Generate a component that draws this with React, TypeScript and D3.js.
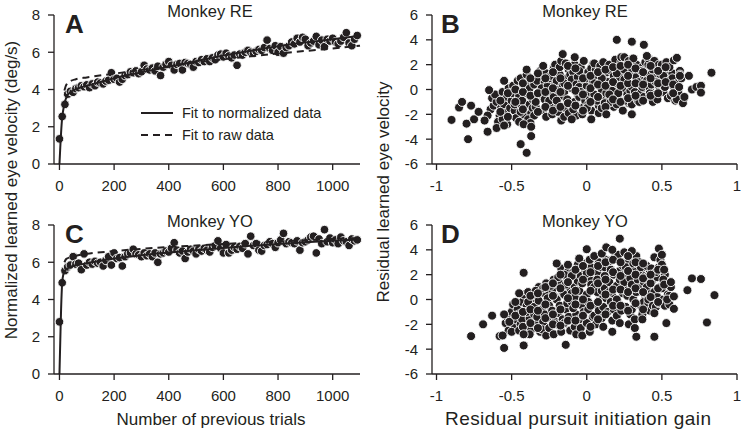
import React from 'react';
import * as d3 from 'd3';

// ---------- Panel A / C : learned eye velocity vs trials ----------
const trials = [0,10,20,30,40,50,60,70,80,90,100,110,120,130,140,150,160,170,180,190,200,210,220,230,240,250,260,270,280,290,300,310,320,330,340,350,360,370,380,390,400,410,420,430,440,450,460,470,480,490,500,510,520,530,540,550,560,570,580,590,600,610,620,630,640,650,660,670,680,690,700,710,720,730,740,750,760,770,780,790,800,810,820,830,840,850,860,870,880,890,900,910,920,930,940,950,960,970,980,990,1000,1010,1020,1030,1040,1050,1060,1070,1080,1090];

const reVelocity = [1.35,2.55,3.2,3.75,3.9,3.85,4.05,4.1,4.2,4.15,4.25,4.1,4.3,4.2,4.4,4.35,4.3,4.45,4.5,4.9,4.55,4.6,4.4,4.55,4.75,4.8,4.95,4.9,5.0,4.85,4.95,5.3,5.1,5.05,5.15,5.0,5.25,4.75,5.2,5.35,5.5,5.3,5.05,5.35,5.4,5.05,5.45,5.4,5.35,5.2,5.5,5.45,5.6,5.5,5.65,5.5,5.7,5.6,5.85,5.9,5.75,5.95,5.8,5.7,5.85,5.3,5.9,5.85,6.0,6.1,6.0,5.95,6.05,6.15,6.1,6.25,6.65,6.2,6.1,6.35,6.0,6.3,5.95,6.25,6.35,6.55,6.45,6.75,6.55,6.8,6.7,6.35,6.5,6.6,6.85,6.4,6.65,6.3,6.7,6.6,6.75,6.55,6.45,6.6,6.8,7.05,6.5,6.35,6.7,6.9];

const yoVelocity = [2.8,4.9,5.55,5.75,5.85,6.3,5.9,5.95,5.6,6.45,5.85,6.0,5.9,6.05,5.95,6.0,5.8,6.1,6.3,5.85,6.5,6.2,6.25,5.8,6.3,6.45,6.5,6.7,6.45,6.4,6.3,6.5,6.35,6.45,6.3,6.5,6.0,6.45,6.5,6.6,6.55,6.75,7.05,6.65,6.5,6.6,6.2,6.55,6.7,6.6,6.45,6.7,6.6,6.75,6.65,6.55,6.8,6.9,7.15,6.75,6.5,6.95,6.5,6.65,6.8,6.7,6.85,6.75,7.0,6.45,7.4,6.9,7.0,6.65,6.6,6.9,6.95,7.1,7.0,6.8,7.05,7.2,7.55,7.0,7.1,7.05,7.0,7.15,6.65,7.05,7.1,7.2,7.35,7.4,6.5,7.25,7.0,7.75,7.1,7.3,7.05,7.2,7.0,7.35,7.15,7.1,6.9,7.25,7.15,7.2];

const normFitTrials = [0,3,6,10,15,20,30,40,50,75,100,150,200,300,400,500,600,700,800,900,1000,1100];
const reNormFit = [0,0.9,1.7,2.5,3.0,3.35,3.7,3.85,3.95,4.1,4.2,4.4,4.6,4.92,5.22,5.52,5.82,6.08,6.32,6.52,6.7,6.88];
const yoNormFit = [0,1.8,3.5,4.9,5.4,5.55,5.68,5.75,5.8,5.88,5.95,6.08,6.2,6.38,6.52,6.65,6.77,6.88,6.98,7.07,7.15,7.22];

const rawFitTrials = [18,25,40,60,100,200,300,400,500,600,700,800,900,1000,1100];
const reRawFit = [3.95,4.25,4.45,4.55,4.65,4.85,5.05,5.25,5.45,5.62,5.78,5.93,6.07,6.2,6.35];
const yoRawFit = [6.0,6.18,6.27,6.35,6.45,6.6,6.72,6.82,6.9,6.98,7.05,7.12,7.18,7.25,7.3];

const trialTicks = [0, 200, 400, 600, 800, 1000];
const velocityTicks = [0, 2, 4, 6, 8];

// ---------- Panel B / D : residuals ----------
const reResiduals: [number, number][] = [
  [-0.64,-1.6],[-0.62,-1.3],[-0.66,-2.1],[-0.63,-0.7],
  [-0.6,-1.0],[-0.58,-2.1],[-0.61,-0.4],[-0.57,-1.5],[-0.59,-2.6],[-0.56,-0.2],
  [-0.55,-1.2],[-0.53,-0.6],[-0.54,-1.9],[-0.52,0.1],[-0.56,-2.4],[-0.51,-1.5],[-0.53,-2.8],
  [-0.5,-0.9],[-0.48,-1.7],[-0.49,0.3],[-0.47,-2.3],[-0.5,-0.3],[-0.46,0.7],[-0.48,-1.2],
  [-0.45,-0.5],[-0.43,-1.4],[-0.44,0.9],[-0.42,-2.0],[-0.45,-2.6],[-0.41,0.2],[-0.43,-0.9],[-0.44,-1.8],
  [-0.4,-0.3],[-0.38,-1.2],[-0.39,0.6],[-0.37,-1.9],[-0.4,1.2],[-0.36,-0.8],[-0.38,0.1],[-0.39,-2.4],[-0.36,-1.5],
  [-0.35,0.4],[-0.33,-0.6],[-0.34,-1.4],[-0.32,1.0],[-0.35,-2.1],[-0.31,-0.1],[-0.33,0.7],[-0.34,-1.0],[-0.31,1.5],
  [-0.3,-0.4],[-0.28,0.6],[-0.29,-1.7],[-0.27,1.3],[-0.3,0.1],[-0.26,-1.1],[-0.28,-0.8],[-0.29,1.9],[-0.27,-2.2],[-0.26,0.3],
  [-0.25,0.9],[-0.23,-0.3],[-0.24,-1.4],[-0.22,1.7],[-0.25,-0.9],[-0.21,0.4],[-0.23,-2.0],[-0.24,1.1],[-0.22,-0.6],[-0.21,2.0],
  [-0.2,0.0],[-0.18,1.2],[-0.19,-1.2],[-0.17,-2.5],[-0.2,0.7],[-0.16,-0.5],[-0.18,1.8],[-0.19,-1.8],[-0.16,0.4],[-0.17,2.3],[-0.2,-0.9],
  [-0.15,-0.2],[-0.13,0.9],[-0.14,-1.5],[-0.12,1.6],[-0.15,-2.2],[-0.11,0.2],[-0.13,-0.8],[-0.14,2.1],[-0.12,-1.9],[-0.11,1.2],[-0.15,0.5],
  [-0.1,0.1],[-0.08,-1.0],[-0.09,1.4],[-0.07,-2.1],[-0.1,0.8],[-0.06,-0.4],[-0.08,2.0],[-0.09,-1.6],[-0.06,1.0],[-0.07,0.4],[-0.1,-2.4],
  [-0.05,-0.6],[-0.03,0.6],[-0.04,1.8],[-0.02,-1.4],[-0.05,0.2],[-0.01,1.2],[-0.03,-2.0],[-0.04,-0.2],[-0.02,2.3],[-0.01,-0.9],[-0.05,1.5],
  [0.0,0.3],[0.02,-0.8],[0.01,1.4],[0.03,-1.7],[0.0,0.9],[0.04,2.0],[0.02,-0.2],[0.01,-1.2],[0.04,0.6],[0.03,1.7],[0.0,-1.5],
  [0.05,-0.4],[0.07,0.8],[0.06,1.6],[0.08,-1.3],[0.05,2.1],[0.09,0.2],[0.07,-0.9],[0.06,1.1],[0.08,-1.9],[0.09,1.9],[0.05,0.5],
  [0.1,0.0],[0.12,1.2],[0.11,-0.7],[0.13,1.8],[0.1,-1.5],[0.14,0.6],[0.12,-1.1],[0.11,2.2],[0.13,-0.3],[0.14,1.4],[0.1,0.9],
  [0.15,0.3],[0.17,-0.6],[0.16,1.5],[0.18,-1.4],[0.15,2.0],[0.19,0.9],[0.17,-0.1],[0.16,-1.0],[0.18,1.1],[0.19,2.4],[0.15,-0.4],
  [0.2,0.5],[0.22,1.6],[0.21,-0.8],[0.23,2.2],[0.2,-1.2],[0.24,0.1],[0.22,1.0],[0.21,-0.3],[0.23,2.6],[0.24,-1.7],[0.2,1.3],
  [0.25,0.8],[0.27,-0.4],[0.26,1.9],[0.28,-1.1],[0.25,2.6],[0.29,0.3],[0.27,1.3],[0.26,-0.9],[0.28,2.3],[0.29,-0.1],[0.25,1.6],
  [0.3,0.2],[0.32,1.4],[0.31,-0.6],[0.33,2.0],[0.3,-1.2],[0.34,0.8],[0.32,-0.2],[0.31,2.5],[0.33,1.0],[0.34,-0.9],[0.3,1.7],
  [0.35,0.6],[0.37,1.8],[0.36,-0.3],[0.38,1.1],[0.35,-1.0],[0.39,2.2],[0.37,0.2],[0.36,1.5],[0.38,-0.6],[0.39,0.9],
  [0.4,1.2],[0.42,0.1],[0.41,2.0],[0.43,-0.7],[0.4,0.7],[0.44,1.6],[0.42,-0.3],[0.41,2.5],[0.43,0.4],[0.44,-1.0],
  [0.45,0.9],[0.47,1.8],[0.46,-0.4],[0.48,0.3],[0.45,2.3],[0.49,1.2],[0.47,-0.8],[0.46,0.6],[0.48,2.0],
  [0.5,0.4],[0.52,1.5],[0.51,-0.2],[0.53,0.9],[0.5,2.0],[0.54,-0.7],[0.52,0.2],[0.51,1.1],[0.53,2.2],
  [0.55,0.7],[0.57,1.3],[0.56,-0.5],[0.58,0.2],[0.55,1.8],[0.59,-0.9],[0.57,0.9],
  [0.6,0.5],[0.62,1.5],[0.61,-0.3],[0.63,0.9],[0.6,-0.8],[0.64,-1.1],[0.62,1.2],
  [-0.575,-0.9],[-0.575,-1.8],[-0.525,-0.3],[-0.525,-2.2],[-0.475,-1.0],[-0.475,0.0],[-0.425,-0.2],[-0.425,-1.6],
  [-0.425,0.5],[-0.375,-0.5],[-0.375,0.9],[-0.375,-2.7],[-0.325,-0.3],[-0.325,1.3],[-0.325,-1.8],[-0.275,0.9],
  [-0.275,-0.2],[-0.275,-1.4],[-0.225,0.1],[-0.225,1.4],[-0.225,-1.7],[-0.175,-0.2],[-0.175,0.9],[-0.175,-1.4],
  [-0.125,0.3],[-0.125,1.9],[-0.125,-1.1],[-0.075,-0.1],[-0.075,1.7],[-0.075,-1.3],[-0.025,0.9],[-0.025,-0.4],
  [-0.025,-1.7],[0.025,0.1],[0.025,1.1],[0.025,-1.0],[0.075,0.4],[0.075,1.4],[0.075,-0.6],[0.125,0.3],
  [0.125,1.6],[0.125,-1.4],[0.175,0.6],[0.175,1.8],[0.175,-0.8],[0.225,0.3],[0.225,1.9],[0.225,-1.0],
  [0.275,0.5],[0.275,1.1],[0.275,-0.7],[0.275,2.0],[0.325,0.5],[0.325,1.7],[0.325,-0.5],[0.375,0.4],
  [0.375,1.4],[0.375,-0.9],[0.425,0.9],[0.425,1.9],[0.425,-0.5],[0.475,0.5],[0.475,1.5],[0.475,-0.3],
  [0.525,0.6],[0.525,1.8],[0.575,0.4],[0.575,-0.3],[0.615,0.2],
  [-0.9,-2.45],[-0.85,-1.45],[-0.83,-1.0],[-0.8,-2.75],[-0.79,-4.0],[-0.77,-1.3],[-0.75,-2.4],[-0.72,-1.8],
  [-0.68,-2.5],[-0.66,-3.4],[-0.65,-0.05],[-0.6,-3.1],[-0.55,-2.9],[-0.55,0.7],[-0.44,-4.4],[-0.42,-2.8],
  [-0.4,-5.1],[-0.37,-3.0],[-0.37,-3.75],[-0.4,1.6],[-0.16,2.85],[-0.08,2.6],[0.2,4.0],[0.3,3.85],[0.38,3.6],
  [0.4,2.7],[0.58,2.35],[0.6,2.55],[0.62,1.1],[0.65,-0.6],[0.68,1.1],[0.7,0.0],[0.73,0.2],[0.76,0.3],
  [0.76,-0.25],[0.83,1.35],[0.03,-2.4],[0.3,-2.0],[0.13,-2.0]
];

const yoResiduals: [number, number][] = [
  [-0.54,-1.9],[-0.52,-2.5],[-0.53,-1.4],
  [-0.5,-1.0],[-0.48,-2.2],[-0.49,-0.4],[-0.47,-1.6],[-0.5,-2.6],[-0.46,-0.8],
  [-0.45,-1.2],[-0.43,-0.2],[-0.44,-2.0],[-0.42,0.4],[-0.45,-2.5],[-0.41,-0.9],[-0.43,-1.6],
  [-0.4,-0.5],[-0.38,-1.5],[-0.39,0.6],[-0.37,-2.4],[-0.4,-1.0],[-0.36,0.1],[-0.38,-2.8],[-0.39,-0.2],
  [-0.35,-1.2],[-0.33,0.2],[-0.34,-2.0],[-0.32,1.0],[-0.35,-0.6],[-0.31,-2.6],[-0.33,-1.4],[-0.34,0.7],[-0.32,-0.1],
  [-0.3,-0.8],[-0.28,0.5],[-0.29,-1.8],[-0.27,1.3],[-0.3,-2.4],[-0.26,-0.3],[-0.28,-1.2],[-0.29,0.9],[-0.27,-2.9],[-0.26,0.1],
  [-0.25,-0.5],[-0.23,0.8],[-0.24,-1.5],[-0.22,1.6],[-0.25,-2.3],[-0.21,0.2],[-0.23,-0.9],[-0.24,1.1],[-0.22,-2.8],[-0.21,-1.8],
  [-0.2,0.0],[-0.18,1.3],[-0.19,-1.1],[-0.17,2.5],[-0.2,-2.0],[-0.16,0.6],[-0.18,-0.5],[-0.19,1.8],[-0.16,-1.6],[-0.17,-2.6],[-0.2,2.9],
  [-0.15,0.4],[-0.13,1.7],[-0.14,-0.8],[-0.12,2.4],[-0.15,-1.9],[-0.11,0.9],[-0.13,-0.3],[-0.14,1.2],[-0.12,-1.4],[-0.11,-2.5],[-0.15,2.0],
  [-0.1,-0.2],[-0.08,1.0],[-0.09,2.2],[-0.07,-1.2],[-0.1,0.5],[-0.06,2.8],[-0.08,-2.2],[-0.09,-0.7],[-0.06,1.5],[-0.07,-2.8],[-0.1,1.9],[-0.08,0.2],
  [-0.05,0.7],[-0.03,-0.5],[-0.04,1.9],[-0.02,2.9],[-0.05,-1.6],[-0.01,0.2],[-0.03,1.3],[-0.04,-2.3],[-0.02,-1.0],[-0.01,2.4],[-0.05,3.3],[-0.03,-2.9],
  [0.0,0.4],[0.02,1.6],[0.01,-0.8],[0.03,2.6],[0.0,-1.9],[0.04,0.9],[0.02,3.2],[0.01,-0.2],[0.04,-1.4],[0.03,1.2],[0.0,2.1],[0.02,-2.6],
  [0.05,1.0],[0.07,2.2],[0.06,-0.4],[0.08,3.0],[0.05,-1.3],[0.09,0.3],[0.07,1.6],[0.06,-2.0],[0.08,-0.9],[0.09,2.6],[0.05,3.5],[0.07,0.6],
  [0.1,0.7],[0.12,1.9],[0.11,-0.6],[0.13,3.2],[0.1,-1.5],[0.14,1.2],[0.12,2.6],[0.11,-2.2],[0.13,0.1],[0.14,-1.0],[0.1,3.7],[0.12,0.9],
  [0.15,1.4],[0.17,0.3],[0.16,2.4],[0.18,-0.8],[0.15,3.1],[0.19,1.0],[0.17,-1.7],[0.16,-0.2],[0.18,2.0],[0.19,3.5],[0.15,0.6],[0.17,-2.6],
  [0.2,1.1],[0.22,2.3],[0.21,-0.3],[0.23,3.0],[0.2,-1.3],[0.24,0.5],[0.22,1.6],[0.21,3.6],[0.23,-0.9],[0.24,2.7],[0.2,0.0],[0.22,-1.9],
  [0.25,0.8],[0.27,2.0],[0.26,-0.6],[0.28,3.2],[0.25,1.4],[0.29,-1.2],[0.27,0.3],[0.26,2.6],[0.28,-2.0],[0.29,1.7],[0.25,3.8],
  [0.3,1.2],[0.32,2.4],[0.31,0.0],[0.33,3.5],[0.3,-0.8],[0.34,1.6],[0.32,-1.6],[0.31,2.9],[0.33,0.6],[0.34,-0.4],[0.3,3.9],[0.32,-2.3],
  [0.35,0.9],[0.37,2.1],[0.36,-0.5],[0.38,1.4],[0.35,3.0],[0.39,0.3],[0.37,-1.2],[0.36,2.6],[0.38,-0.2],[0.39,1.9],[0.37,-1.6],
  [0.4,1.0],[0.42,2.2],[0.41,-0.3],[0.43,0.5],[0.4,2.7],[0.44,1.6],[0.42,-0.9],[0.41,0.0],[0.43,2.5],[0.44,-0.5],[0.4,1.8],
  [0.45,0.6],[0.47,1.8],[0.46,-0.6],[0.48,2.6],[0.45,3.4],[0.49,1.0],[0.47,0.2],[0.46,2.2],[0.48,-0.3],[0.49,3.2],[0.45,-1.1],
  [0.5,0.9],[0.52,2.0],[0.51,0.0],[0.53,1.3],[0.5,2.8],[0.54,0.4],[0.52,-0.5],[0.51,1.6],
  [0.55,0.3],[0.56,1.0],[0.55,-0.4],
  [-0.515,-1.8],[-0.475,-1.3],[-0.475,-0.2],[-0.425,-1.0],[-0.425,-2.2],[-0.375,-0.8],[-0.375,-1.9],[-0.375,0.3],
  [-0.325,-0.9],[-0.325,0.5],[-0.325,-2.3],[-0.275,-0.4],[-0.275,-1.5],[-0.275,1.0],[-0.225,0.3],[-0.225,-1.2],
  [-0.225,-2.0],[-0.225,1.3],[-0.175,0.9],[-0.175,-0.8],[-0.175,-2.1],[-0.175,2.0],[-0.125,0.1],[-0.125,1.4],
  [-0.125,-1.7],[-0.125,2.8],[-0.075,0.7],[-0.075,-0.4],[-0.075,-1.7],[-0.075,2.4],[-0.025,0.0],[-0.025,1.6],
  [-0.025,-1.3],[-0.025,2.7],[0.025,0.7],[0.025,-0.5],[0.025,2.2],[0.025,-2.2],[0.075,1.3],[0.075,-0.2],
  [0.075,2.7],[0.075,-1.6],[0.125,0.4],[0.125,1.6],[0.125,-1.2],[0.125,3.0],[0.175,0.8],[0.175,2.2],
  [0.175,-0.5],[0.175,3.2],[0.225,0.8],[0.225,1.9],[0.225,-0.5],[0.225,3.0],[0.275,0.6],[0.275,2.3],
  [0.275,-0.9],[0.275,3.5],[0.325,0.9],[0.325,2.0],[0.325,-0.3],[0.325,3.0],[0.375,0.6],[0.375,1.7],
  [0.375,-0.8],[0.375,2.9],[0.425,1.3],[0.425,0.2],[0.425,2.0],[0.475,0.9],[0.475,2.4],[0.475,-0.2],
  [0.515,1.2],[0.515,2.4],[0.535,0.0],
  [-0.77,-2.95],[-0.69,-2.0],[-0.63,-1.3],[-0.58,-2.95],[-0.56,-2.9],[-0.55,-3.9],[-0.55,-1.2],[-0.42,2.15],
  [-0.42,-3.7],[-0.42,-2.8],[-0.45,0.5],[-0.14,-3.65],[0.22,4.9],[0.45,-3.0],[0.33,-3.0],[0.58,0.25],
  [0.58,-0.75],[0.53,-1.9],[0.56,1.4],[0.67,0.75],[0.7,1.7],[0.76,1.65],[0.8,-1.85],[0.85,0.35],
  [0.0,4.05],[0.13,4.2],[0.17,4.0],[0.48,4.1],[0.5,3.6]
];

const gainTicks = [-1, -0.5, 0, 0.5, 1];
const residualTicks = [-6, -4, -2, 0, 2, 4, 6];

const FONT = "'Liberation Sans', Arial, Helvetica, sans-serif";
const INK = '#231f20';

type Scale = d3.ScaleLinear<number, number>;

function Axes({ x, y, xTicks, yTicks }: { x: Scale; y: Scale; xTicks: number[]; yTicks: number[] }) {
  const [x0, x1] = x.range();
  const [y0, y1] = y.range();
  return (
    <g fontFamily={FONT} fill={INK}>
      <line x1={x0} x2={x0} y1={y1} y2={y0} stroke={INK} strokeWidth={1.3} />
      <line x1={x0} x2={x1} y1={y0} y2={y0} stroke={INK} strokeWidth={1.3} />
      {yTicks.map((t) => (
        <g key={'y' + t}>
          <line x1={x0 - 6} x2={x0} y1={y(t)} y2={y(t)} stroke={INK} strokeWidth={1.3} />
          <text x={x0 - 14} y={y(t)} dy="0.36em" textAnchor="end" fontSize={15}>{String(t)}</text>
        </g>
      ))}
      {xTicks.map((t) => (
        <g key={'x' + t}>
          <line x1={x(t)} x2={x(t)} y1={y0} y2={y0 + 6} stroke={INK} strokeWidth={1.3} />
          <text x={x(t)} y={y0 + 27} textAnchor="middle" fontSize={15}>{String(t)}</text>
        </g>
      ))}
    </g>
  );
}

function TrialPanel({ top, velocity, normFit, rawFit, title, letter, legend }: {
  top: number; velocity: number[]; normFit: number[]; rawFit: number[]; title: string; letter: string; legend: boolean;
}) {
  const x = d3.scaleLinear().domain([-20, 1100]).range([54, 360]);
  const y = d3.scaleLinear().domain([0, 8]).range([top + 149, top]);
  const line = d3.line<[number, number]>().x((d) => x(d[0])).y((d) => y(d[1])).curve(d3.curveMonotoneX);
  const normPts = normFitTrials.map((t, i) => [t, normFit[i]] as [number, number]);
  const rawPts = rawFitTrials.map((t, i) => [t, rawFit[i]] as [number, number]);
  return (
    <g>
      <Axes x={x} y={y} xTicks={trialTicks} yTicks={velocityTicks} />
      {trials.map((t, i) => (
        <circle key={i} cx={x(t)} cy={y(velocity[i])} r={4.3} fill={INK} stroke="#fff" strokeWidth={0.9} />
      ))}
      <path d={line(normPts) || ''} fill="none" stroke={INK} strokeWidth={2} />
      <path d={line(rawPts) || ''} fill="none" stroke={INK} strokeWidth={2} strokeDasharray="7,5" />
      <text x={210} y={top + 2} textAnchor="middle" fontFamily={FONT} fontSize={16.5} fill={INK}>{title}</text>
      <text x={65} y={top + 18} fontFamily={FONT} fontSize={26} fontWeight="bold" fill={INK}>{letter}</text>
      {legend && (
        <g fontFamily={FONT} fontSize={14.5} fill={INK}>
          <line x1={141} x2={173} y1={113} y2={113} stroke={INK} strokeWidth={2} />
          <text x={182} y={113} dy="0.36em">Fit to normalized data</text>
          <line x1={141} x2={173} y1={135} y2={135} stroke={INK} strokeWidth={2} strokeDasharray="7,5" />
          <text x={182} y={135} dy="0.36em">Fit to raw data</text>
        </g>
      )}
    </g>
  );
}

function ResidualPanel({ top, points, title, letter }: { top: number; points: [number, number][]; title: string; letter: string }) {
  const x = d3.scaleLinear().domain([-1.03, 1]).range([432, 737]);
  const y = d3.scaleLinear().domain([-6, 6]).range([top + 149, top]);
  return (
    <g>
      <Axes x={x} y={y} xTicks={gainTicks} yTicks={residualTicks} />
      {points.map((p, i) => (
        <circle key={i} cx={x(p[0])} cy={y(p[1])} r={4.5} fill={INK} stroke="#fff" strokeWidth={0.9} />
      ))}
      <text x={585} y={top + 2} textAnchor="middle" fontFamily={FONT} fontSize={16.5} fill={INK}>{title}</text>
      <text x={441} y={top + 18} fontFamily={FONT} fontSize={26} fontWeight="bold" fill={INK}>{letter}</text>
    </g>
  );
}

export default function App() {
  return (
    <svg width={741} height={429} style={{ position: 'absolute', left: 0, top: 0, background: '#fff' }}>
      <rect width={741} height={429} fill="#fff" />
      <TrialPanel top={15} velocity={reVelocity} normFit={reNormFit} rawFit={reRawFit} title="Monkey RE" letter="A" legend={true} />
      <TrialPanel top={225} velocity={yoVelocity} normFit={yoNormFit} rawFit={yoRawFit} title="Monkey YO" letter="C" legend={false} />
      <ResidualPanel top={15} points={reResiduals} title="Monkey RE" letter="B" />
      <ResidualPanel top={225} points={yoResiduals} title="Monkey YO" letter="D" />
      <text transform="translate(17,190) rotate(-90)" textAnchor="middle" fontFamily={FONT} fontSize={17} fill={INK}>
        Normalized learned eye velocity (deg/s)
      </text>
      <text transform="translate(389,192) rotate(-90)" textAnchor="middle" fontFamily={FONT} fontSize={17} fill={INK}>
        Residual learned eye velocity
      </text>
      <text x={211} y={425} textAnchor="middle" fontFamily={FONT} fontSize={17} fill={INK}>Number of previous trials</text>
      <text x={578} y={425} textAnchor="middle" fontFamily={FONT} fontSize={19} fill={INK} textLength={266} lengthAdjust="spacing">Residual pursuit initiation gain</text>
    </svg>
  );
}
